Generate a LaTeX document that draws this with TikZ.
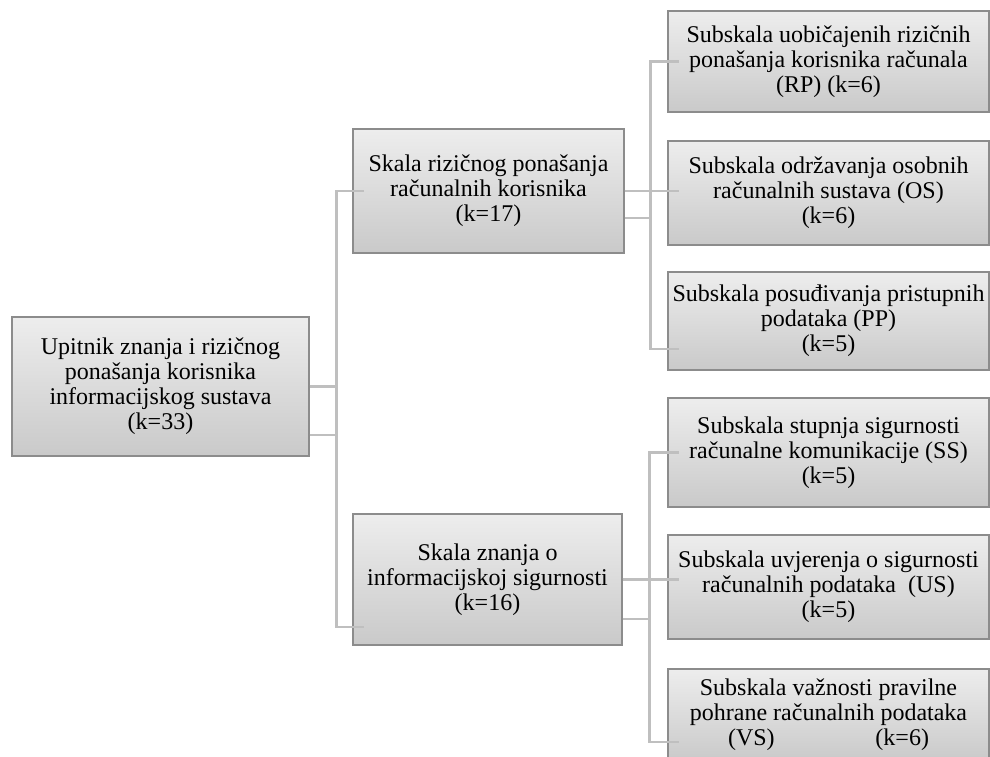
\documentclass[tikz,border=0pt]{standalone}
\usepackage{fontspec}
\setmainfont{Liberation Serif}
\usetikzlibrary{calc}

\tikzset{
    box/.style={draw=black!45, line width=1.2pt, top color=black!7, bottom color=black!21,
        align=center, inner sep=0pt, font=\fontsize{24}{25}\selectfont},
    leaf/.style={box, minimum width=321pt},
    link/.style={draw=black!25, line width=2.2pt}
}

\begin{document}
\begin{tikzpicture}[x=1pt, y=-1pt]
    \useasboundingbox (0,0) rectangle (990,756);
    \clip (0,0) rectangle (990,756);

    % Questionnaire
    \node[box, minimum width=297pt, minimum height=139pt] (upitnik) at (160.5,386.5)
        {Upitnik znanja i rizičnog\\ponašanja korisnika\\informacijskog sustava\\(k=33)};

    % Scales
    \node[box, minimum width=271pt, minimum height=124pt] (rizik) at (488.5,191)
        {Skala rizičnog ponašanja\\računalnih korisnika\\(k=17)};
    \node[box, minimum width=269pt, minimum height=131pt] (znanje) at (487.5,579.5)
        {Skala znanja o\\informacijskoj sigurnosti\\(k=16)};

    % Subscales
    \node[leaf, minimum height=101pt] (rp) at (828.5,61.5)
        {Subskala uobičajenih rizičnih\\ponašanja korisnika računala\\(RP) (k=6)};
    \node[leaf, minimum height=104pt] (os) at (828.5,193)
        {Subskala održavanja osobnih\\računalnih sustava (OS)\\(k=6)};
    \node[leaf, minimum height=98pt] (pp) at (828.5,321)
        {Subskala posuđivanja pristupnih\\podataka (PP)\\(k=5)};
    \node[leaf, minimum height=109pt] (ss) at (828.5,452.5)
        {Subskala stupnja sigurnosti\\računalne komunikacije (SS)\\(k=5)};
    \node[leaf, minimum height=104pt] (us) at (828.5,587)
        {Subskala uvjerenja o sigurnosti\\računalnih podataka\ \ (US)\\(k=5)};
    \node[leaf, minimum height=92pt] (vs) at (828.5,715)
        {Subskala važnosti pravilne\\pohrane računalnih podataka\\(VS)\hspace{4.2em}(k=6)};

    % Questionnaire to scales
    \draw[link] (upitnik.east) -| ([xshift=-16pt,yshift=-47.5pt]znanje.west)
        -- ([xshift=12pt,yshift=-47.5pt]znanje.west);
    \draw[link] ([yshift=-48.5pt]upitnik.east) -| ([xshift=-16pt]rizik.west)
        -- ([xshift=12pt]rizik.west);

    % First scale to subscales
    \draw[link] (rizik.east) -| ([xshift=-17pt,yshift=-28pt]pp.west)
        -- ([xshift=12pt,yshift=-28pt]pp.west);
    \draw[link] ([yshift=-27pt]rizik.east) -| ([xshift=-17pt]rp.west)
        -- ([xshift=12pt]rp.west);
    \draw[link] (rizik.east) -- ($(os.west |- rizik.east)+(12pt,0)$);

    % Second scale to subscales
    \draw[link] (znanje.east) -| ([xshift=-18pt,yshift=-27pt]vs.west)
        -- ([xshift=12pt,yshift=-27pt]vs.west);
    \draw[link] ([yshift=-39.5pt]znanje.east) -| ([xshift=-18pt]ss.west)
        -- ([xshift=12pt]ss.west);
    \draw[link] (znanje.east) -- ($(us.west |- znanje.east)+(12pt,0)$);

\end{tikzpicture}
\end{document}
